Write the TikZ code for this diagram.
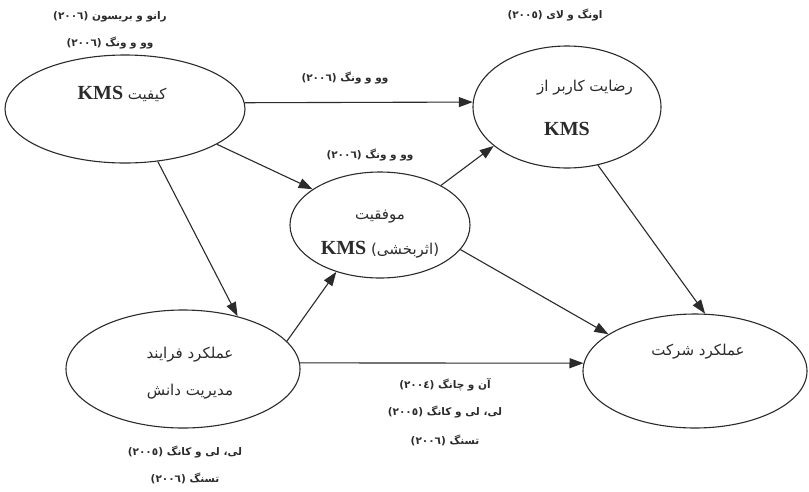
\documentclass[tikz,border=0pt]{standalone}
\usepackage{fontspec}
\usetikzlibrary{shapes.geometric,arrows.meta}
\TeXXeTstate=1
\newfontfamily\fa[Script=Arabic]{DejaVu Sans}
\newfontfamily\kmsfont{Liberation Serif}
\newcommand{\fatext}[1]{\beginR#1\endR}
\newcommand{\kms}{{\kmsfont\bfseries\fontsize{20}{22}\selectfont KMS}}
\definecolor{linec}{HTML}{2B2B2B}
\begin{document}
\begin{tikzpicture}[x=1pt,y=-1pt,
  ell/.style={ellipse, draw=linec, line width=1.1pt, inner sep=0pt},
  captxt/.style={font=\fa\bfseries\fontsize{10.5}{12}\selectfont, text=linec, inner sep=1pt},
  lab/.style={font=\fa\fontsize{15}{17}\selectfont, text=linec, inner sep=1pt},
  arr/.style={draw=linec, line width=1.1pt, -{Triangle[length=14pt,width=10pt]}}]
\useasboundingbox[fill=white] (0,0) rectangle (809,491);
% ellipses
\node[ell, minimum width=240, minimum height=108] (q) at (125,109) {};
\node[ell, minimum width=188, minimum height=122] (s) at (567,107) {};
\node[ell, minimum width=180, minimum height=106] (m) at (380,225) {};
\node[ell, minimum width=234, minimum height=118] (p) at (183,369) {};
\node[ell, minimum width=224, minimum height=114] (f) at (695,371) {};
% ellipse texts
\node[lab] (qt) at (122,94) {\fatext{کیفیت \kms}};
\node[lab] (st1) at (585,88) {\fatext{رضایت کاربر از}};
\node[lab] (st2) at (567,129) {\kms};
\node[lab] (mt1) at (380,217) {\fatext{موفقیت}};
\node[lab] (mt2) at (380,250) {\fatext{(اثربخشی) \kms}};
\node[lab] (pt1) at (190,355) {\fatext{عملکرد فرایند}};
\node[lab] (pt2) at (190,392) {\fatext{مدیریت دانش}};
\node[lab] (ft) at (698,352) {\fatext{عملکرد شرکت}};
% captions
\node[captxt] (c1) at (110,17) {\fatext{رانو و بریسون (٢٠٠٦)}};
\node[captxt] (c2) at (110,43) {\fatext{وو و ونگ (٢٠٠٦)}};
\node[captxt] (c3) at (555,15) {\fatext{اونگ و لای (٢٠٠٥)}};
\node[captxt] (c4) at (345,78) {\fatext{وو و ونگ (٢٠٠٦)}};
\node[captxt] (c5) at (370,155) {\fatext{وو و ونگ (٢٠٠٦)}};
\node[captxt] (c6) at (445,385) {\fatext{آن و چانگ (٢٠٠٤)}};
\node[captxt] (c7) at (445,412) {\fatext{لی، لی و کانگ (٢٠٠٥)}};
\node[captxt] (c8) at (445,440) {\fatext{تسنگ (٢٠٠٦)}};
\node[captxt] (c9) at (185,452) {\fatext{لی، لی و کانگ (٢٠٠٥)}};
\node[captxt] (c10) at (185,478) {\fatext{تسنگ (٢٠٠٦)}};
% arrows
\draw[arr] (q.3) -- (s.177);
\draw[arr] (q.-21) -- (m.152);
\draw[arr] (q.-58) -- (p.44);
\draw[arr] (m.33) -- (s.-152);
\draw[arr] (p.15) -- (m.-133);
\draw[arr] (p.3) -- (f.176);
\draw[arr] (m.-17) -- (f.157);
\draw[arr] (s.-62) -- (f.80);
\end{tikzpicture}
\end{document}
